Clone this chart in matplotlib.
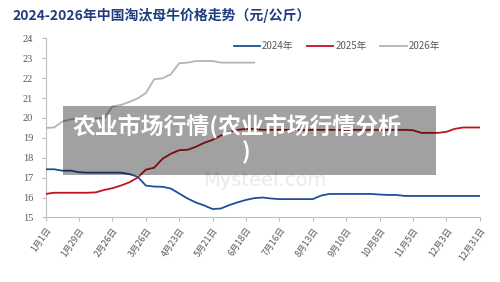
import numpy as np
import matplotlib
matplotlib.use("Agg")
import matplotlib.pyplot as plt
from matplotlib.patches import Rectangle

plt.rcParams['font.family'] = ['Noto Sans CJK SC', 'DejaVu Sans']

# ---- data (weekly, day-of-year 0..364) ----
tick_labels = ["1月1日", "1月29日", "2月26日", "3月26日", "4月23日", "5月21日", "6月18日",
               "7月16日", "8月13日", "9月10日", "10月8日", "11月5日", "12月3日", "12月31日"]
series_names = ["2024年", "2025年", "2026年"]

y2024 = [17.42, 17.42, 17.35, 17.35, 17.27, 17.25, 17.25, 17.25, 17.25, 17.25,
         17.18, 17.05, 16.60, 16.55, 16.54, 16.45, 16.20, 15.95, 15.75, 15.60,
         15.42, 15.45, 15.62, 15.76, 15.88, 15.97, 16.00, 15.95, 15.92, 15.92,
         15.92, 15.92, 15.92, 16.10, 16.18, 16.18, 16.18, 16.18, 16.18, 16.18,
         16.15, 16.13, 16.13, 16.08, 16.08, 16.08, 16.08, 16.08, 16.08, 16.08,
         16.08, 16.08, 16.08]
y2025 = [16.18, 16.24, 16.24, 16.24, 16.24, 16.24, 16.26, 16.38, 16.47, 16.60,
         16.76, 17.00, 17.40, 17.50, 17.95, 18.20, 18.38, 18.40, 18.55, 18.75,
         18.90, 19.12, 19.30, 19.40, 19.45, 19.45, 19.40, 19.40, 19.40, 19.40,
         19.40, 19.40, 19.40, 19.40, 19.40, 19.40, 19.40, 19.40, 19.40, 19.40,
         19.40, 19.40, 19.40, 19.40, 19.38, 19.25, 19.25, 19.25, 19.30, 19.45,
         19.52, 19.52, 19.52]
y2026 = [19.50, 19.52, 19.82, 19.93, 19.97, 19.97, 19.98, 19.98, 20.58, 20.65,
         20.80, 20.98, 21.25, 21.95, 21.99, 22.20, 22.75, 22.78, 22.86, 22.86,
         22.86, 22.78, 22.78, 22.78, 22.78, 22.78]

days_full = np.arange(0, 365, 7)
days_2026 = days_full[:len(y2026)]
tick_days = np.arange(0, 365, 28)

colors = ["#1F4E9A", "#C0141C", "#B4B4B4"]

fig = plt.figure(figsize=(5.0, 2.82), dpi=100)
ax = fig.add_axes([0.0914, 0.229, 0.868, 0.635])

ax.plot(days_full, y2024, color=colors[0], lw=1.3, label=series_names[0], zorder=3)
ax.plot(days_full, y2025, color=colors[1], lw=1.3, label=series_names[1], zorder=3)
ax.plot(days_2026, y2026, color=colors[2], lw=1.3, label=series_names[2], zorder=3)

ax.set_xlim(0, 364)
ax.set_ylim(15, 24)
ax.set_yticks(range(15, 25))
ax.set_yticklabels([str(v) for v in range(15, 25)], family='Liberation Serif',
                   fontsize=7.5, color='#595959')
ax.set_xticks(tick_days)
ax.set_xticklabels(tick_labels, rotation=55, ha='right', va='top',
                   rotation_mode='anchor', fontsize=6.5, color='#595959')

for s in ['top', 'right']:
    ax.spines[s].set_visible(False)
for s in ['left', 'bottom']:
    ax.spines[s].set_color('#BFBFBF')
    ax.spines[s].set_linewidth(0.8)
ax.tick_params(axis='both', colors='#BFBFBF', length=3, width=0.8, pad=4)
ax.tick_params(axis='y', labelcolor='#595959', pad=6)
ax.tick_params(axis='x', labelcolor='#595959', pad=3)

# legend
fig.legend(loc='center', bbox_to_anchor=(0.674, 0.837), ncol=3, frameon=False,
           fontsize=7, handlelength=2.7, columnspacing=1.4, handletextpad=0.2,
           labelcolor='#595959')

# title
fig.text(0.024, 0.945, "2024-2026年中国淘汰母牛价格走势（元/公斤）", fontsize=10,
         fontweight='bold', color='#1F3C7E', ha='left', va='center')

# watermark
fig.text(0.53, 1-181/282, "Mysteel.com", fontsize=14, color='#EAEAEA', ha='center',
         va='center', family='DejaVu Sans', zorder=0)

# overlay box
fig.patches.append(Rectangle((63/500, 1-175/282), (436-63)/500, (175-105.7)/282,
                             transform=fig.transFigure, facecolor='black',
                             alpha=0.37, edgecolor='none', zorder=5))
fig.text(73/500, 1-126/282, "农业市场行情(农业市场行情分析", fontsize=16.5, fontweight='bold',
         color='white', ha='left', va='center', zorder=6)
fig.text(246/500, 1-153/282, ")", fontsize=16.5, fontweight='bold',
         color='white', ha='center', va='center', zorder=6)

fig.savefig("out.png", dpi=100)
